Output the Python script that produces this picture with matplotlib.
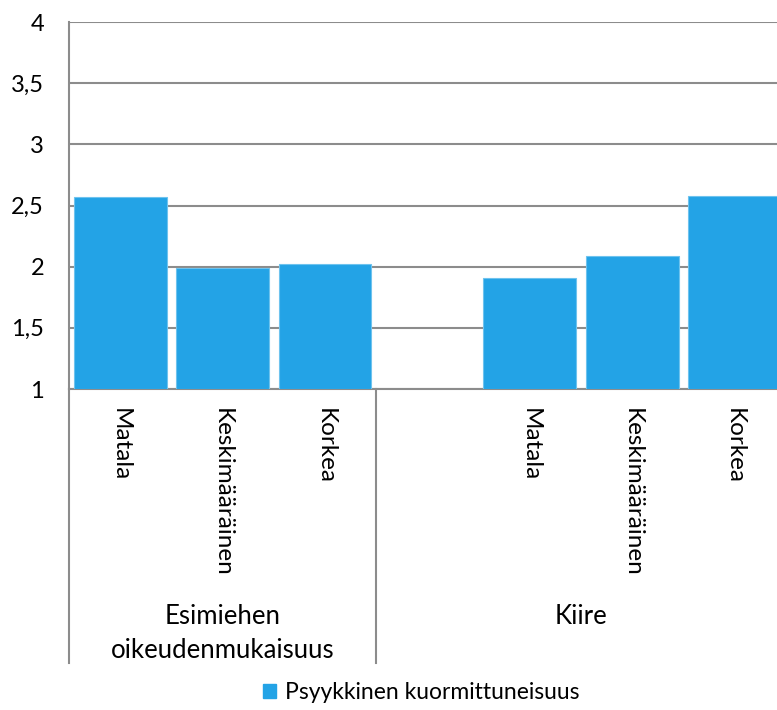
import matplotlib.pyplot as plt
from matplotlib.patches import Patch

# values per category slot (None = empty spacer slot between groups)
categories = ["Matala", "Keskimääräinen", "Korkea", "", "Matala", "Keskimääräinen", "Korkea"]
values = [2.57, 1.99, 2.02, None, 1.91, 2.09, 2.58]
groups = ["Esimiehen\noikeudenmukaisuus", "Kiire"]
group_spans = [(0, 2), (3, 6)]
series_name = "Psyykkinen kuormittuneisuus"
yticks = [1, 1.5, 2, 2.5, 3, 3.5, 4]
ytick_labels = ["1", "1,5", "2", "2,5", "3", "3,5", "4"]

bar_color = "#23A3E6"
grid_color = "#8C8C8C"
font = ["Lato", "DejaVu Sans"]
plt.rcParams['font.family'] = font
fs = 17.5

fig = plt.figure(figsize=(7.77, 7.10), dpi=100)
ax = fig.add_axes([69 / 777, 0.4521, 716.8 / 777, 0.5169])

xs = [i for i, v in enumerate(values) if v is not None]
hs = [v for v in values if v is not None]
ax.bar(xs, [h - 1 for h in hs], bottom=1, width=0.905, color=bar_color,
       edgecolor="#6EC3EE", linewidth=0.8, zorder=3)

ax.set_xlim(-0.5, 6.5)
ax.set_ylim(1, 4)
ax.set_yticks(yticks)
ax.set_yticklabels(ytick_labels, fontsize=17)
ax.set_xticks([])
ax.tick_params(axis='y', length=0, pad=18)
ax.yaxis.grid(True, color=grid_color, linewidth=1.5, zorder=0)
for s in ["top", "right"]:
    ax.spines[s].set_visible(False)
for s in ["left", "bottom"]:
    ax.spines[s].set_color(grid_color)
    ax.spines[s].set_linewidth(1.5)

# multi-level category axis
depth = -0.747
ax.plot([-0.5, -0.5], [0, depth], transform=ax.get_xaxis_transform(),
        color=grid_color, linewidth=1.5, clip_on=False)
for (a, b) in group_spans[:-1]:
    ax.plot([b + 0.5, b + 0.5], [0, depth], transform=ax.get_xaxis_transform(),
            color=grid_color, linewidth=1.5, clip_on=False)

for i, c in enumerate(categories):
    if c:
        ax.text(i, -0.052, c, rotation=270, ha='center', va='top', fontsize=fs,
                transform=ax.get_xaxis_transform())

for g, (a, b) in zip(groups, group_spans):
    y = -0.665 if "\n" in g else -0.62
    ax.text((a + b) / 2, y, g, ha='center', va='center', fontsize=18.5,
            linespacing=1.45, transform=ax.get_xaxis_transform())

fig.legend(handles=[Patch(color=bar_color, label=series_name)], loc='center',
           bbox_to_anchor=(0.542, 0.024), frameon=False, fontsize=16.5,
           handlelength=0.55, handleheight=0.55, handletextpad=0.4)

fig.savefig("out.png", dpi=100)
